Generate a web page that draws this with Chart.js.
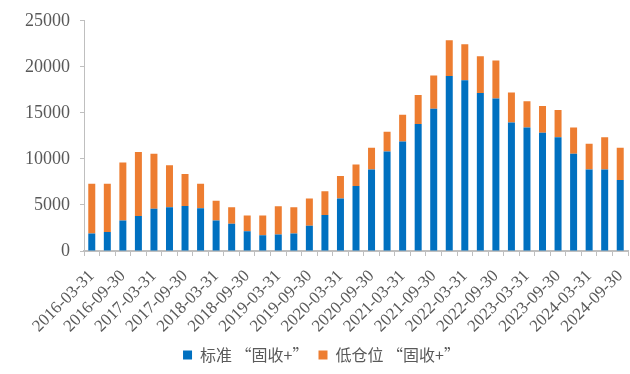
<!DOCTYPE html>
<html>
<head>
<meta charset="utf-8">
<script src="https://cdn.jsdelivr.net/npm/chart.js@4"></script>
<style>
  body { margin: 0; background: #fff; }
  #wrap { width: 630px; height: 374px; }
</style>
</head>
<body>
<div id="wrap"><canvas id="chart"></canvas></div>
<script>
// quarter-end dates, 2016Q1 .. 2024Q3
const quarters = [
    '2016-03-31', '2016-06-30', '2016-09-30', '2016-12-31',
    '2017-03-31', '2017-06-30', '2017-09-30', '2017-12-31',
    '2018-03-31', '2018-06-30', '2018-09-30', '2018-12-31',
    '2019-03-31', '2019-06-30', '2019-09-30', '2019-12-31',
    '2020-03-31', '2020-06-30', '2020-09-30', '2020-12-31',
    '2021-03-31', '2021-06-30', '2021-09-30', '2021-12-31',
    '2022-03-31', '2022-06-30', '2022-09-30', '2022-12-31',
    '2023-03-31', '2023-06-30', '2023-09-30', '2023-12-31',
    '2024-03-31', '2024-06-30', '2024-09-30'
];

const standard = [
    1900, 2050, 3300, 3800, 4600, 4750, 4900, 4650, 3300, 2950,
    2150, 1700, 1800, 1900, 2750, 3900, 5700, 7050, 8850, 10800,
    11900, 13800, 15450, 19000, 18550, 17150, 16550, 13950, 13400, 12850,
    12350, 10550, 8850, 8850, 7700
];

const lowPosition = [
    5400, 5250, 6300, 6950, 5950, 4550, 3450, 2650, 2150, 1800,
    1700, 2150, 3050, 2850, 2950, 2600, 2450, 2350, 2350, 2150,
    2900, 3150, 3600, 3900, 3900, 4000, 4150, 3250, 2850, 2900,
    2950, 2850, 2800, 3500, 3500
];

const yTicks = [0, 5000, 10000, 15000, 20000, 25000];

const axisColor = '#bfbfbf';
const textColor = '#595959';
const serif = "'Liberation Serif', 'Times New Roman', serif";

new Chart(document.getElementById('chart'), {
    type: 'bar',
    data: {
        labels: quarters,
        datasets: [
            {
                label: '标准 “固收+”',
                data: standard,
                backgroundColor: '#0070c0',
                barPercentage: 0.9,
                categoryPercentage: 0.5
            },
            {
                label: '低仓位 “固收+”',
                data: lowPosition,
                backgroundColor: '#ed7d31',
                barPercentage: 0.9,
                categoryPercentage: 0.5
            }
        ]
    },
    options: {
        responsive: true,
        maintainAspectRatio: false,
        animation: false,
        layout: { padding: { top: 9, right: 2, left: 15, bottom: 1 } },
        plugins: {
            tooltip: { enabled: false },
            legend: {
                position: 'bottom',
                labels: {
                    boxWidth: 9,
                    boxHeight: 9,
                    padding: 10,
                    color: textColor,
                    font: { family: "'Noto Sans CJK SC', sans-serif", size: 16 }
                }
            }
        },
        scales: {
            x: {
                stacked: true,
                border: { color: axisColor, width: 2 },
                grid: {
                    display: true,
                    drawOnChartArea: false,
                    color: axisColor,
                    tickLength: 5,
                    offset: true
                },
                // fixed band for the slanted date labels, no side padding
                afterFit: function (axis) {
                    axis.height = 86;
                    axis.paddingLeft = 0;
                    axis.paddingRight = 0;
                },
                ticks: {
                    autoSkip: false,
                    maxRotation: 45,
                    minRotation: 45,
                    color: textColor,
                    padding: 10,
                    font: { family: serif, size: 17 },
                    callback: function (value, index) {
                        return index % 2 === 0 ? this.getLabelForValue(value) : '';
                    }
                }
            },
            y: {
                stacked: true,
                min: 0,
                max: 25000,
                border: { color: axisColor, width: 1 },
                grid: {
                    display: true,
                    drawOnChartArea: false,
                    color: axisColor,
                    tickLength: 4
                },
                afterBuildTicks: function (axis) {
                    axis.ticks = yTicks.map(v => ({ value: v }));
                },
                ticks: {
                    color: textColor,
                    padding: 10,
                    font: { family: serif, size: 18 },
                    callback: value => String(value)
                }
            }
        }
    }
});
</script>
</body>
</html>
